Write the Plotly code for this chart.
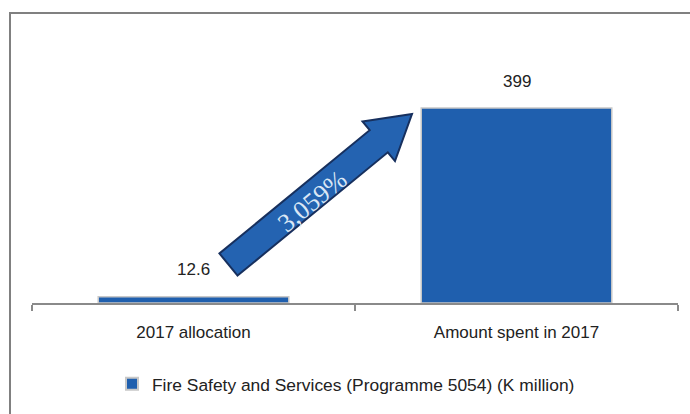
import math
import plotly.graph_objects as go

# Fire Safety and Services (Programme 5054), K million
categories = ["2017 allocation", "Amount spent in 2017"]
values = [12.6, 399]
value_labels = ["12.6", "399"]
series_name = "Fire Safety and Services (Programme 5054) (K million)"
growth_label = "3,059%"

BAR_BLUE = "#1f5fae"
FONT = "Liberation Sans, Arial, sans-serif"
SERIF = "'Times New Roman', 'Liberation Serif', 'DejaVu Serif', serif"

W, H = 690, 414
ML, MR, MT, MB = 32, 12, 60, 111
PW, PH = W - ML - MR, H - MT - MB


def to_paper(px, py):
    return (px - ML) / PW, (H - MB - py) / PH


fig = go.Figure()
fig.add_trace(go.Bar(
    x=categories, y=values, name=series_name,
    marker=dict(color=BAR_BLUE, line=dict(color="#c8c8c8", width=1.5)),
    showlegend=True,
))

# value labels above bars
for c, v, t in zip(categories, values, value_labels):
    fig.add_annotation(x=c, y=v, text=t, showarrow=False, yanchor="middle",
                       yshift=27, font=dict(family=FONT, size=17, color="#222"))

# growth arrow (pixel geometry converted to paper coordinates)
tail = (228.5, 264.5)
tip = (412.0, 114.0)
shaft_hw, head_len, head_hw = 14.3, 43.0, 25.6
dx, dy = tip[0] - tail[0], tip[1] - tail[1]
L = math.hypot(dx, dy)
ux, uy = dx / L, dy / L
nx, ny = -uy, ux
base = (tip[0] - ux * head_len, tip[1] - uy * head_len)
pts = [
    (tail[0] + nx * shaft_hw, tail[1] + ny * shaft_hw),
    (base[0] + nx * shaft_hw, base[1] + ny * shaft_hw),
    (base[0] + nx * head_hw, base[1] + ny * head_hw),
    tip,
    (base[0] - nx * head_hw, base[1] - ny * head_hw),
    (base[0] - nx * shaft_hw, base[1] - ny * shaft_hw),
    (tail[0] - nx * shaft_hw, tail[1] - ny * shaft_hw),
]
path = "M " + " L ".join("%.5f,%.5f" % to_paper(*p) for p in pts) + " Z"
fig.add_shape(type="path", path=path, xref="paper", yref="paper",
              fillcolor="#2463b1", line=dict(color="#17305e", width=2))

angle = math.degrees(math.atan2(-dy, dx))
cx, cy = to_paper(312, 201)
fig.add_annotation(x=cx, y=cy, xref="paper", yref="paper", text=growth_label,
                   showarrow=False, textangle=-angle,
                   font=dict(family=SERIF, size=26, color="#dbe7f5"))

# outer frame (partially cropped)
fx0, fy1 = to_paper(10, 13)
fig.add_shape(type="rect", xref="paper", yref="paper", x0=fx0, y0=-2, x1=2, y1=fy1,
              line=dict(color="#808080", width=2), fillcolor="rgba(0,0,0,0)", layer="below")

lx, ly = to_paper(112, 384)
fig.update_layout(
    width=W, height=H,
    margin=dict(l=ML, r=MR, t=MT, b=MB),
    paper_bgcolor="white", plot_bgcolor="white",
    bargap=0.41,
    font=dict(family=FONT, size=16, color="#222"),
    legend=dict(orientation="h", x=lx, xanchor="left", y=ly, yanchor="middle",
                font=dict(family=FONT, size=17.4, color="#222"), itemwidth=30,
                itemsizing="constant"),
    xaxis=dict(showline=True, linecolor="#8a8a8a", linewidth=1.5, ticks="outside",
               tickson="boundaries", ticklen=6, tickcolor="#8a8a8a", tickwidth=1.5,
               ticklabelstandoff=13,
               showgrid=False, tickfont=dict(family=FONT, size=17, color="#222")),
    yaxis=dict(range=[0, 399 * PH / 195], visible=False, showgrid=False, zeroline=False),
)

fig.write_html("out.html")
